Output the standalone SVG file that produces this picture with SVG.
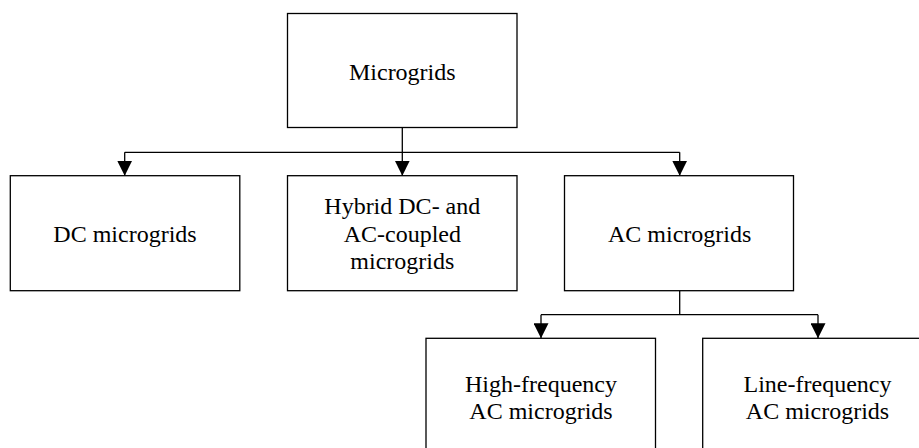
<svg xmlns="http://www.w3.org/2000/svg" width="919" height="448" viewBox="0 0 919 448">
<style>
.box{fill:#fff;stroke:#000;stroke-width:1.3}
.lbl{font-family:"Liberation Serif","Times New Roman",serif;font-size:24px;fill:#000;text-anchor:middle}
.ln{fill:none;stroke:#000;stroke-width:1.3}
</style>
<defs>
<marker id="ah" markerUnits="userSpaceOnUse" markerWidth="16" markerHeight="15" refX="15" refY="7.5" orient="auto">
<path d="M0,0 L15,7.5 L0,15 Z" fill="#000"/>
</marker>
</defs>
<rect width="919" height="448" fill="#fff"/>
<g id="connectors">
<path class="ln" d="M402.3,127.5 V152.3"/>
<path class="ln" d="M124.7,152.3 H679.7"/>
<path class="ln" d="M124.7,152.3 V175.7" marker-end="url(#ah)"/>
<path class="ln" d="M402.3,152.3 V175.7" marker-end="url(#ah)"/>
<path class="ln" d="M679.7,152.3 V175.7" marker-end="url(#ah)"/>
<path class="ln" d="M679.7,290.7 V314.7"/>
<path class="ln" d="M541,314.7 H818"/>
<path class="ln" d="M541,314.7 V338.3" marker-end="url(#ah)"/>
<path class="ln" d="M818,314.7 V338.3" marker-end="url(#ah)"/>
</g>
<g id="microgrids">
<rect class="box" x="287.5" y="13.5" width="229.5" height="114"/>
<text class="lbl" x="402.3" y="80">Microgrids</text>
</g>
<g id="dc">
<rect class="box" x="10.3" y="175.7" width="229.5" height="115"/>
<text class="lbl" x="125" y="241.7">DC microgrids</text>
</g>
<g id="hybrid">
<rect class="box" x="287.5" y="175.7" width="229.5" height="115"/>
<text class="lbl" x="402.3" y="214">Hybrid DC- and</text>
<text class="lbl" x="402.3" y="241.7">AC-coupled</text>
<text class="lbl" x="402.3" y="269.3">microgrids</text>
</g>
<g id="ac">
<rect class="box" x="564.5" y="175.7" width="229" height="115"/>
<text class="lbl" x="679.7" y="241.7">AC microgrids</text>
</g>
<g id="hf">
<rect class="box" x="426" y="338.3" width="229.5" height="120"/>
<text class="lbl" x="541" y="391.7">High-frequency</text>
<text class="lbl" x="541" y="419">AC microgrids</text>
</g>
<g id="lf">
<rect class="box" x="702.7" y="338.3" width="229.5" height="120"/>
<text class="lbl" x="817.5" y="391.7">Line-frequency</text>
<text class="lbl" x="817.5" y="419">AC microgrids</text>
</g>
</svg>
